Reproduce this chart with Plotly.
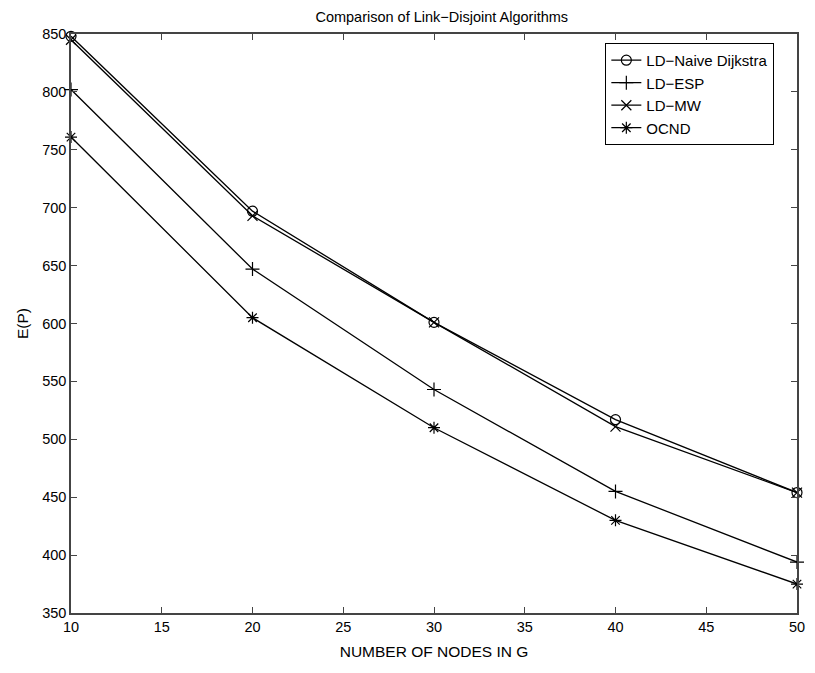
import plotly.graph_objects as go

x_nodes = [10, 20, 30, 40, 50]
naive_dijkstra = [848, 697, 601, 517, 454]
ld_esp = [802, 647, 543, 455, 394]
ld_mw = [845, 693, 601, 511, 454]
ocnd = [761, 605, 510, 430, 375]

series = [
    ("LD\u2212Naive Dijkstra", naive_dijkstra, "circle-open"),
    ("LD\u2212ESP", ld_esp, "cross-thin-open"),
    ("LD\u2212MW", ld_mw, "x-thin-open"),
    ("OCND", ocnd, "asterisk-open"),
]

FONT = "Liberation Sans, Arial, Helvetica, sans-serif"

# The page body has an 8px default margin, so the figure is sized/offset to compensate.
W, H = 807, 665

fig = go.Figure()
for name, vals, sym in series:
    fig.add_trace(go.Scatter(
        x=x_nodes, y=vals, name=name, mode="lines+markers",
        line=dict(color="black", width=1.3),
        marker=dict(symbol=sym, size=10, color="black", line=dict(color="black", width=1.2)),
        cliponaxis=False,
    ))

axis_common = dict(
    showline=True, linecolor="#444444", linewidth=1.5, mirror="ticks",
    ticks="inside", ticklen=6, tickcolor="#444444", tickwidth=1,
    showgrid=False, zeroline=False, ticklabeloverflow="allow",
    tickfont=dict(family=FONT, size=14.5, color="black"),
)

fig.update_layout(
    width=W, height=H,
    margin=dict(l=63, r=10, t=26, b=60),
    paper_bgcolor="white", plot_bgcolor="white",
    font=dict(family=FONT, color="black"),
    title=dict(text="Comparison of Link\u2212Disjoint Algorithms", x=0.5375, xanchor="center",
               y=1, yref="container", yanchor="top", pad=dict(t=4),
               font=dict(family=FONT, size=14.5, color="black")),
    xaxis=dict(range=[10, 50], tickvals=[10, 15, 20, 25, 30, 35, 40, 45, 50],
               title=dict(text="NUMBER OF NODES IN G", font=dict(family=FONT, size=15.5, color="black"), standoff=12),
               **axis_common),
    yaxis=dict(range=[350, 850], tickvals=list(range(350, 851, 50)),
               title=dict(text="E(P)", font=dict(family=FONT, size=15.5, color="black"), standoff=10),
               **axis_common),
    legend=dict(x=0.736, y=0.9845, xanchor="left", yanchor="top",
                bgcolor="white", bordercolor="black", borderwidth=1,
                font=dict(family=FONT, size=15, color="black"),
                tracegroupgap=0, itemwidth=30),
    showlegend=True,
)

fig.write_html("out.html")
